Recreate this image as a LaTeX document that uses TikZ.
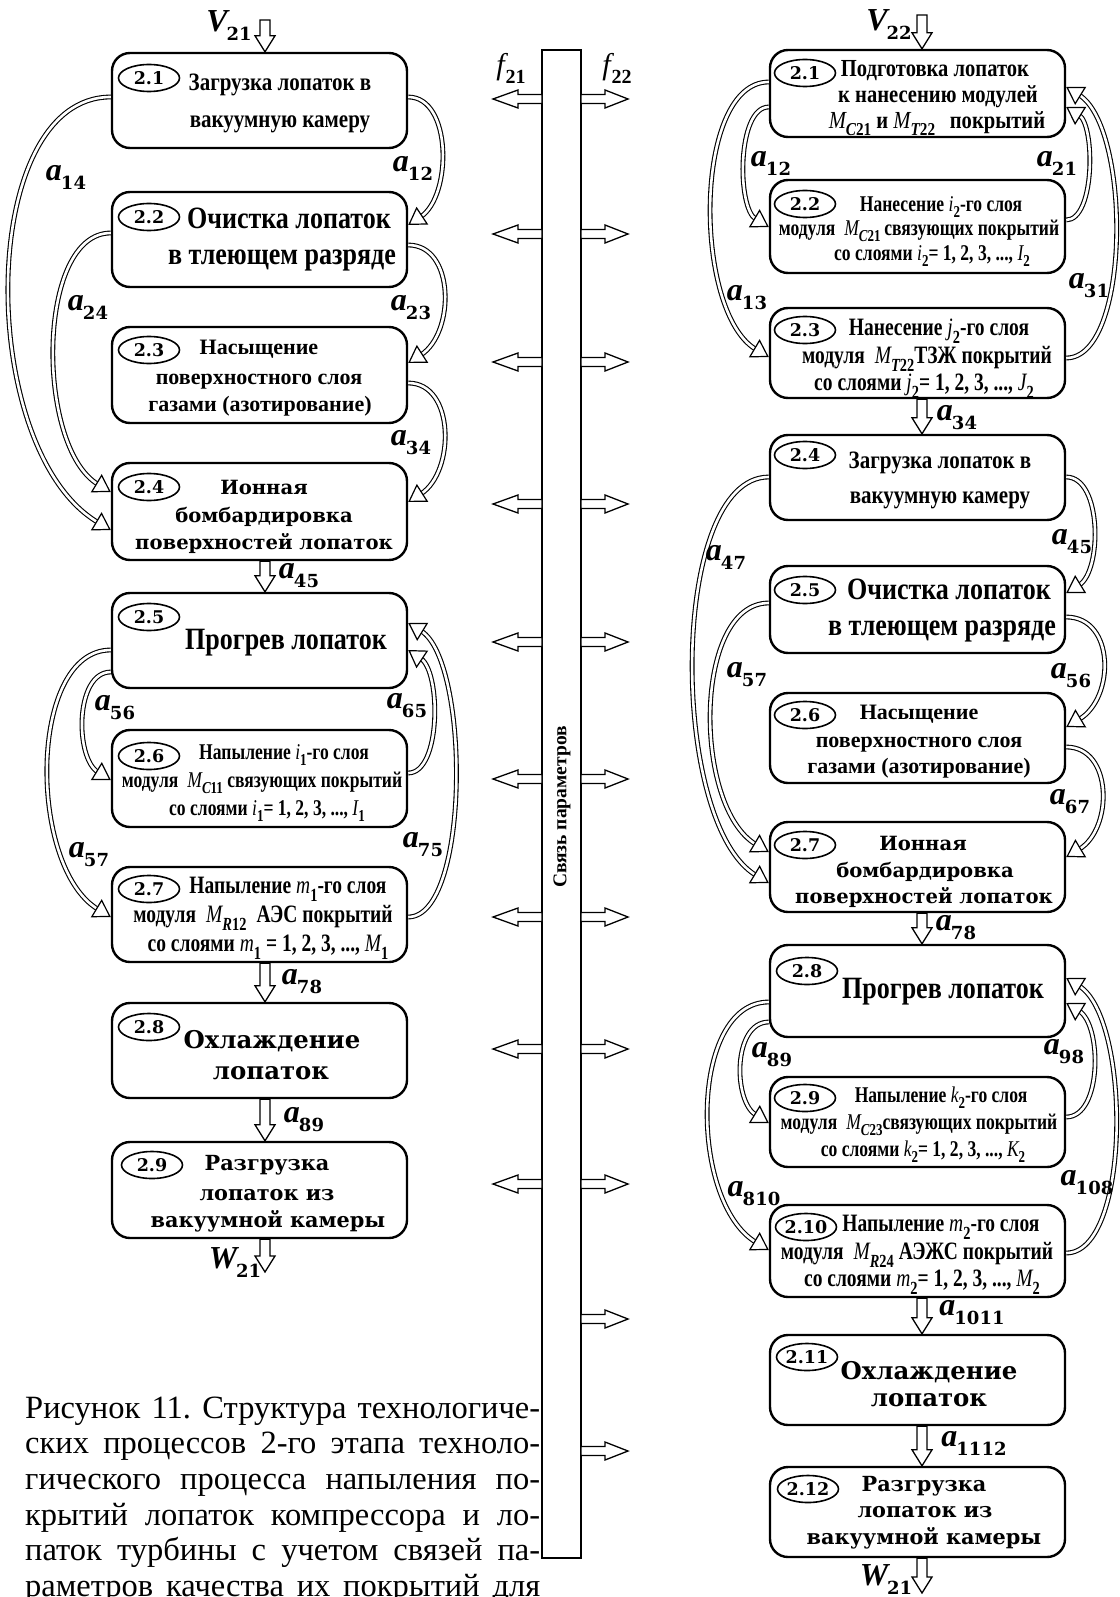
\documentclass[tikz,border=0pt]{standalone}
\usepackage{fontspec}
\usepackage{graphicx}
\setmainfont{Liberation Serif}
\newfontfamily\tms{Liberation Serif}
\newfontfamily\cnd{Liberation Serif}[FakeStretch=0.84]
\newfontfamily\cndn{Liberation Serif}[FakeStretch=0.78]
\newfontfamily\wid{DejaVu Serif}
\usetikzlibrary{calc,arrows.meta,shapes.geometric}

% subscripts and italic symbols inside box texts
\newcommand\sbs[1]{\raisebox{-0.3em}{\scalebox{0.74}{\bfseries\upshape #1}}}
\newcommand\mi[1]{{\mdseries\itshape #1}}
\newcommand\idx[2]{\mi{#1}\sbs{#2}}
% connector labels a_{ij}, V, W, f
\newcommand\lab[2]{{\tms\bfseries\itshape\fontsize{32}{32}\selectfont #1}\kern-1pt\raisebox{-9pt}{\wid\bfseries\fontsize{18}{18}\selectfont #2}}
\newcommand\labf[2]{{\tms\itshape\fontsize{30}{30}\selectfont #1}\kern1pt\raisebox{-9pt}{\tms\bfseries\fontsize{20}{20}\selectfont #2}}

% curved double connector with a hollow head: start, end, control offsets
\newcommand\curv[6]{%
  \path (#1) coordinate (cs) (#2) coordinate (ce);
  \path (ce) ++(#5,#6) coordinate (cc);
  \draw[dbl, shorten >=15pt] (cs) .. controls +(#3,#4) and (cc) .. (ce);
  \draw[hd] ($(ce)!16pt!(cc)$) -- (ce);}
% hollow block arrows
\newcommand\vblk[2]{\draw[blk] let \p1=(#1), \p2=(#2) in
  (\x1-5pt,\y1) -- (\x1-5pt,\y2+16pt) -- (\x1-10pt,\y2+16pt) -- (\x1,\y2)
  -- (\x1+10pt,\y2+16pt) -- (\x1+5pt,\y2+16pt) -- (\x1+5pt,\y1) -- cycle;}
\newcommand\lblk[2]{\draw[blk] let \p1=(#1), \p2=(#2) in
  (\x1,\y1+4.5pt) -- (\x2+25pt,\y1+4.5pt) -- (\x2+25pt,\y1+9pt) -- (\x2,\y1)
  -- (\x2+25pt,\y1-9pt) -- (\x2+25pt,\y1-4.5pt) -- (\x1,\y1-4.5pt) -- cycle;}
\newcommand\rblk[2]{\draw[blk] let \p1=(#1), \p2=(#2) in
  (\x1,\y1+4.5pt) -- (\x2-23pt,\y1+4.5pt) -- (\x2-23pt,\y1+9pt) -- (\x2,\y1)
  -- (\x2-23pt,\y1-9pt) -- (\x2-23pt,\y1-4.5pt) -- (\x1,\y1-4.5pt) -- cycle;}

\tikzset{
  box/.style={draw, line width=2.4pt, rounded corners=18pt, minimum width=295pt, inner sep=0pt},
  num/.style={draw, ellipse, line width=1.6pt, minimum width=61pt, minimum height=27pt, inner sep=0pt,
    font=\wid\bfseries\fontsize{17.5}{17.5}\selectfont},
  tA/.style={inner sep=0pt, font=\cnd\bfseries\fontsize{25}{25}\selectfont, text height=15pt, text depth=3.5pt},
  tG/.style={inner sep=0pt, font=\cnd\bfseries\fontsize{24.5}{24.5}\selectfont, text height=14pt, text depth=3pt},
  tB/.style={inner sep=0pt, font=\cnd\bfseries\fontsize{31}{31}\selectfont, text height=19pt, text depth=5pt},
  tC/.style={inner sep=0pt, font=\tms\bfseries\fontsize{22}{22}\selectfont, text height=13pt, text depth=3pt},
  tD/.style={inner sep=0pt, font=\wid\bfseries\fontsize{19.6}{19.6}\selectfont, text height=12.5pt, text depth=2.3pt},
  tH/.style={inner sep=0pt, font=\wid\bfseries\fontsize{24.4}{24.4}\selectfont, text height=15.5pt, text depth=3pt},
  tF/.style={inner sep=0pt, font=\wid\bfseries\fontsize{20.8}{20.8}\selectfont, text height=13pt, text depth=2.4pt},
  tE/.style={inner sep=0pt, font=\cndn\bfseries\fontsize{22.5}{22.5}\selectfont, text height=13pt, text depth=2.6pt},
  tL/.style={inner sep=0pt, font=\cndn\bfseries\fontsize{25}{25}\selectfont, text height=14pt, text depth=2.8pt},
  lbl/.style={inner sep=0pt},
  captext/.style={inner sep=0pt, anchor=base west, font=\tms\fontsize{32.5}{32.5}\selectfont\frenchspacing},
  dbl/.style={double, double distance=2.6pt, line width=1.1pt},
  hd/.style={-{Triangle[fill=white, length=17pt, width=21pt]}, line width=1.2pt},
  blk/.style={draw, line width=1.3pt, fill=white, line join=miter},
}

\begin{document}
\begin{tikzpicture}[x=1pt, y=-1pt]
\useasboundingbox (0,0) rectangle (1119,1597);

% ---------- left column ----------
\node[box, minimum height=95pt] (L1) at (259.5,100.5) {};
\node[box, minimum height=95pt] (L2) at (259.5,239.5) {};
\node[box, minimum height=96pt] (L3) at (259.5,375) {};
\node[box, minimum height=97pt] (L4) at (259.5,511.5) {};
\node[box, minimum height=95pt] (L5) at (259.5,640.5) {};
\node[box, minimum height=97pt] (L6) at (259.5,778.5) {};
\node[box, minimum height=95pt] (L7) at (259.5,914.5) {};
\node[box, minimum height=95pt] (L8) at (259.5,1050.5) {};
\node[box, minimum height=96pt] (L9) at (259.5,1190) {};

\node[num] (L1n) at (149,78) {2.1};
\node[num] (L2n) at (149,217) {2.2};
\node[num] (L3n) at (149,350) {2.3};
\node[num] (L4n) at (149,487) {2.4};
\node[num] (L5n) at (149,617) {2.5};
\node[num] (L6n) at (149,756) {2.6};
\node[num] (L7n) at (149,889) {2.7};
\node[num] (L8n) at (149,1027) {2.8};
\node[num] (L9n) at (152,1165) {2.9};

\node[tA] (L1a) at (280,85) {Загрузка лопаток в};
\node[tA] (L1b) at (280,122) {вакуумную камеру};
\node[tB] (L2a) at (289,222) {Очистка лопаток};
\node[tB] (L2b) at (282,258) {в тлеющем разряде};
\node[tC] (L3a) at (259,349) {Насыщение};
\node[tC] (L3b) at (259,379) {поверхностного слоя};
\node[tC] (L3c) at (260,406) {газами (азотирование)};
\node[tD] (L4a) at (264,489) {Ионная};
\node[tD] (L4b) at (264,517) {бомбардировка};
\node[tD] (L4c) at (264,544) {поверхностей лопаток};
\node[tB] (L5a) at (286,642) {Прогрев лопаток};
\node[tE] (L6a) at (284,754) {Напыление \idx{i}{1}-го слоя};
\node[tE] (L6b) at (262,782) {модуля\hspace{0.4em}\idx{M}{{\itshape C}11} связующих покрытий};
\node[tE] (L6c) at (267,810) {со слоями \idx{i}{1}= 1, 2, 3, ..., \idx{I}{1}};
\node[tL] (L7a) at (288,888) {Напыление \idx{m}{1}-го слоя};
\node[tL] (L7b) at (263,917) {модуля\hspace{0.4em}\idx{M}{{\itshape R}12}\hspace{0.4em}АЭС покрытий};
\node[tL] (L7c) at (268,946) {со слоями \idx{m}{1} = 1, 2, 3, ..., \idx{M}{1}};
\node[tH] (L8a) at (272,1042) {Охлаждение};
\node[tH] (L8b) at (271,1073) {лопаток};
\node[tF] (L9a) at (267,1165) {Разгрузка};
\node[tF] (L9b) at (267,1195) {лопаток из};
\node[tF] (L9c) at (268,1222) {вакуумной камеры};

% straight flow arrows, left
\coordinate (vin1) at (265,20);
\coordinate (wout1) at (265,1272);
\vblk{vin1}{265,0 |- L1.north}
\vblk{265,0 |- L4.south}{265,0 |- L5.north}
\vblk{265,0 |- L7.south}{265,0 |- L8.north}
\vblk{265,0 |- L8.south}{265,0 |- L9.north}
\vblk{265,0 |- L9.south}{wout1}

% curved links, left
\curv{L1.east |- 0,97}{L2.east |- 0,225}{44}{0}{44}{-29}
\curv{L2.east |- 0,245}{L3.east |- 0,363}{47}{0}{47}{-30}
\curv{L3.east |- 0,383}{L4.east |- 0,502}{47}{0}{47}{-30}
\curv{L1.west |- 0,97}{L4.west |- 0,530}{-135}{0}{-135}{-80}
\curv{L2.west |- 0,233}{L4.west |- 0,492}{-75}{0}{-75}{-45}
\curv{L5.west |- 0,672}{L6.west |- 0,780}{-36}{0}{-36}{-22}
\curv{L5.west |- 0,650}{L7.west |- 0,917}{-83}{0}{-83}{-50}
\curv{L6.east |- 0,773}{L5.east |- 0,650}{33}{0}{33}{22}
\curv{L7.east |- 0,917}{L5.east |- 0,623}{62}{0}{62}{38}

\node[lbl] (lV1) at (229,26) {\lab{V}{21}};
\node[lbl] (lW1) at (235,1263) {\lab{W}{21}};
\node[lbl] (la14) at (66,177) {\lab{a}{14}};
\node[lbl] (la12) at (413,168) {\lab{a}{12}};
\node[lbl] (la24) at (88,307) {\lab{a}{24}};
\node[lbl] (la23) at (411,308) {\lab{a}{23}};
\node[lbl] (la34) at (411,443) {\lab{a}{34}};
\node[lbl] (la45) at (299,576) {\lab{a}{45}};
\node[lbl] (la56) at (115,708) {\lab{a}{56}};
\node[lbl] (la65) at (407,706) {\lab{a}{65}};
\node[lbl] (la57) at (89,855) {\lab{a}{57}};
\node[lbl] (la75) at (423,845) {\lab{a}{75}};
\node[lbl] (la78) at (302,982) {\lab{a}{78}};
\node[lbl] (la89) at (304,1120) {\lab{a}{89}};

% ---------- parameter bus ----------
\node[draw, line width=2pt, minimum width=39pt, minimum height=1508pt, inner sep=0pt, outer sep=0pt] (bar) at (561.5,804) {};
\node[rotate=90, inner sep=0pt, font=\tms\bfseries\fontsize{19.5}{19.5}\selectfont] (bartxt) at (562,807) {Связь параметров};
\foreach \yy [count=\i] in {99,234,362,504,642,779,917,1049,1184} {
  \coordinate (fl\i) at (493,\yy);
  \lblk{bar.west |- fl\i}{fl\i}
}
\foreach \yy [count=\i] in {99,234,362,504,642,779,917,1049,1184,1319,1451} {
  \coordinate (fr\i) at (628,\yy);
  \rblk{bar.east |- fr\i}{fr\i}
}
\node[lbl] (lf1) at (511,68) {\labf{f}{21}};
\node[lbl] (lf2) at (617,68) {\labf{f}{22}};

% ---------- right column ----------
\node[box, minimum height=87pt] (R1) at (917.5,93.5) {};
\node[box, minimum height=93pt] (R2) at (917.5,226.5) {};
\node[box, minimum height=90pt] (R3) at (917.5,353) {};
\node[box, minimum height=85pt] (R4) at (917.5,477.5) {};
\node[box, minimum height=87pt] (R5) at (917.5,609.5) {};
\node[box, minimum height=90pt] (R6) at (917.5,738) {};
\node[box, minimum height=90pt] (R7) at (917.5,867) {};
\node[box, minimum height=92pt] (R8) at (917.5,991) {};
\node[box, minimum height=90pt] (R9) at (917.5,1122) {};
\node[box, minimum height=92pt] (R10) at (917.5,1251) {};
\node[box, minimum height=90pt] (R11) at (917.5,1380) {};
\node[box, minimum height=90pt] (R12) at (917.5,1512) {};

\node[num] (R1n) at (805,73) {2.1};
\node[num] (R2n) at (805,204) {2.2};
\node[num] (R3n) at (805,330) {2.3};
\node[num] (R4n) at (805,455) {2.4};
\node[num] (R5n) at (805,590) {2.5};
\node[num] (R6n) at (805,715) {2.6};
\node[num] (R7n) at (805,845) {2.7};
\node[num] (R8n) at (807,971) {2.8};
\node[num] (R9n) at (805,1098) {2.9};
\node[num] (R10n) at (806,1227) {2.10};
\node[num] (R11n) at (807,1357) {2.11};
\node[num] (R12n) at (808,1489) {2.12};

\node[tG] (R1a) at (935,71) {Подготовка лопаток};
\node[tG] (R1b) at (938,97) {к нанесению модулей};
\node[tG] (R1c) at (937,123) {\idx{M}{{\itshape C}21} и \idx{M}{{\itshape T}22}\hspace{0.6em}покрытий};
\node[tE] (R2a) at (941,206) {Нанесение \idx{i}{2}-го слоя};
\node[tE] (R2b) at (919,230) {модуля\hspace{0.4em}\idx{M}{{\itshape C}21}\,связующих покрытий};
\node[tE] (R2c) at (932,255) {со слоями \idx{i}{2}= 1, 2, 3, ..., \idx{I}{2}};
\node[tL] (R3a) at (939,330) {Нанесение \idx{j}{2}-го слоя};
\node[tL] (R3b) at (927,358) {модуля\hspace{0.4em}\idx{M}{{\itshape T}22}ТЗЖ покрытий};
\node[tL] (R3c) at (924,385) {со слоями \idx{j}{2}= 1, 2, 3, ..., \idx{J}{2}};
\node[tA] (R4a) at (940,463) {Загрузка лопаток в};
\node[tA] (R4b) at (940,498) {вакуумную камеру};
\node[tB] (R5a) at (949,592) {Очистка лопаток};
\node[tB] (R5b) at (942,628) {в тлеющем разряде};
\node[tC] (R6a) at (919,714) {Насыщение};
\node[tC] (R6b) at (919,742) {поверхностного слоя};
\node[tC] (R6c) at (919,768) {газами (азотирование)};
\node[tD] (R7a) at (923,845) {Ионная};
\node[tD] (R7b) at (925,872) {бомбардировка};
\node[tD] (R7c) at (924,898) {поверхностей лопаток};
\node[tB] (R8a) at (943,991) {Прогрев лопаток};
\node[tE] (R9a) at (941,1097) {Напыление \idx{k}{2}-го слоя};
\node[tE] (R9b) at (919,1124) {модуля\hspace{0.4em}\idx{M}{{\itshape C}23}связующих покрытий};
\node[tE] (R9c) at (923,1151) {со слоями \idx{k}{2}= 1, 2, 3, ..., \idx{K}{2}};
\node[tL] (R10a) at (941,1226) {Напыление \idx{m}{2}-го слоя};
\node[tL] (R10b) at (917,1254) {модуля\hspace{0.4em}\idx{M}{{\itshape R}24} АЭЖС покрытий};
\node[tL] (R10c) at (922,1281) {со слоями \idx{m}{2}= 1, 2, 3, ..., \idx{M}{2}};
\node[tH] (R11a) at (929,1373) {Охлаждение};
\node[tH] (R11b) at (929,1400) {лопаток};
\node[tF] (R12a) at (924,1486) {Разгрузка};
\node[tF] (R12b) at (925,1512) {лопаток из};
\node[tF] (R12c) at (924,1539) {вакуумной камеры};

% straight flow arrows, right
\coordinate (vin2) at (922,15);
\coordinate (wout2) at (922,1593);
\vblk{vin2}{922,0 |- R1.north}
\vblk{922,0 |- R3.south}{922,0 |- R4.north}
\vblk{922,0 |- R7.south}{922,0 |- R8.north}
\vblk{922,0 |- R10.south}{922,0 |- R11.north}
\vblk{922,0 |- R11.south}{922,0 |- R12.north}
\vblk{922,0 |- R12.south}{wout2}

% curved links, right
\curv{R1.west |- 0,107}{R2.west |- 0,227}{-32}{0}{-32}{-19}
\curv{R1.west |- 0,82}{R3.west |- 0,357}{-76}{0}{-76}{-45}
\curv{R2.east |- 0,220}{R1.east |- 0,107}{29}{0}{29}{18}
\curv{R3.east |- 0,358}{R1.east |- 0,87}{65}{0}{65}{40}
\curv{R4.east |- 0,477}{R5.east |- 0,593}{36}{0}{36}{-22}
\curv{R4.west |- 0,477}{R7.west |- 0,883}{-100}{0}{-100}{-60}
\curv{R5.east |- 0,617}{R6.east |- 0,727}{49}{0}{49}{-29}
\curv{R6.east |- 0,747}{R7.east |- 0,857}{47}{0}{47}{-28}
\curv{R5.west |- 0,603}{R7.west |- 0,852}{-76}{0}{-76}{-45}
\curv{R8.west |- 0,1022}{R9.west |- 0,1123}{-36}{0}{-36}{-22}
\curv{R8.west |- 0,1002}{R10.west |- 0,1250}{-80}{0}{-80}{-48}
\curv{R9.east |- 0,1117}{R8.east |- 0,1003}{36}{0}{36}{22}
\curv{R10.east |- 0,1253}{R8.east |- 0,978}{65}{0}{65}{40}

\node[lbl] (lV2) at (889,25) {\lab{V}{22}};
\node[lbl] (lW2) at (886,1580) {\lab{W}{21}};
\node[lbl] (ra12) at (771,163) {\lab{a}{12}};
\node[lbl] (ra21) at (1057,163) {\lab{a}{21}};
\node[lbl] (ra13) at (747,298) {\lab{a}{13}};
\node[lbl] (ra31) at (1089,286) {\lab{a}{31}};
\node[lbl] (ra34) at (957,418) {\lab{a}{34}};
\node[lbl] (ra47) at (726,557) {\lab{a}{47}};
\node[lbl] (ra45) at (1072,542) {\lab{a}{45}};
\node[lbl] (ra57) at (747,675) {\lab{a}{57}};
\node[lbl] (ra56) at (1071,676) {\lab{a}{56}};
\node[lbl] (ra67) at (1070,802) {\lab{a}{67}};
\node[lbl] (ra78) at (956,928) {\lab{a}{78}};
\node[lbl] (ra89) at (772,1055) {\lab{a}{89}};
\node[lbl] (ra98) at (1064,1052) {\lab{a}{98}};
\node[lbl] (ra810) at (754,1194) {\lab{a}{810}};
\node[lbl] (ra108) at (1087,1183) {\lab{a}{108}};
\node[lbl] (ra1011) at (972,1313) {\lab{a}{1011}};
\node[lbl] (ra1112) at (974,1443) {\lab{a}{1112}};

% ---------- caption ----------
\node[captext] (cap1) at (25,1418) {\makebox[515pt][s]{Рисунок 11. Структура технологиче-}};
\node[captext] (cap2) at (25,1453) {\makebox[515pt][s]{ских процессов 2-го этапа техноло-}};
\node[captext] (cap3) at (25,1489) {\makebox[515pt][s]{гического процесса напыления по-}};
\node[captext] (cap4) at (25,1525) {\makebox[515pt][s]{крытий лопаток компрессора и ло-}};
\node[captext] (cap5) at (25,1560) {\makebox[515pt][s]{паток турбины с учетом связей па-}};
\node[captext] (cap6) at (25,1596) {\makebox[515pt][s]{раметров качества их покрытий для}};
\end{tikzpicture}
\end{document}
